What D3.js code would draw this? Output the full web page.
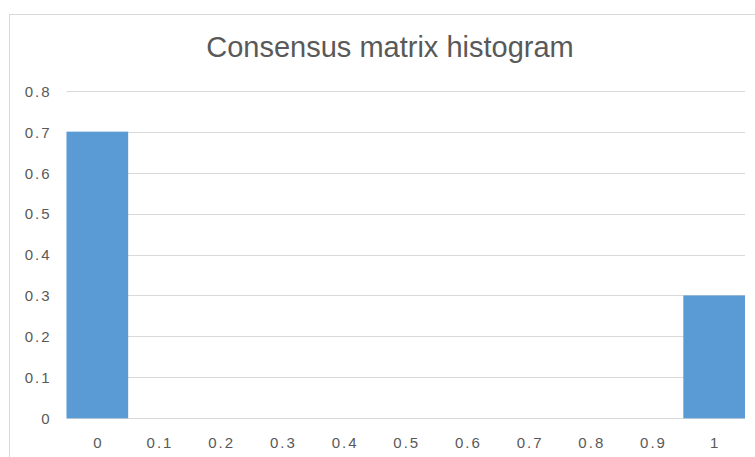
<!DOCTYPE html>
<html>
<head>
<meta charset="utf-8">
<script src="https://cdn.jsdelivr.net/npm/d3@7"></script>
<style>
  html, body { margin: 0; padding: 0; background: #fff; }
  svg { display: block; }
</style>
</head>
<body>
<svg id="chart" width="755" height="457"></svg>
<script>
// Histogram bins of the consensus matrix and their relative frequencies
const binLabels = ["0", "0.1", "0.2", "0.3", "0.4", "0.5", "0.6", "0.7", "0.8", "0.9", "1"];
const frequencies = [0.7, 0, 0, 0, 0, 0, 0, 0, 0, 0, 0.3];
const yTicks = [0, 0.1, 0.2, 0.3, 0.4, 0.5, 0.6, 0.7, 0.8];
const chartTitle = "Consensus matrix histogram";

const svg = d3.select("#chart");
const font = "'Liberation Sans', Arial, sans-serif";
const textColor = "#595959";
const labelSpacing = 2;

// Chart frame
svg.append("rect")
  .attr("x", 9.5).attr("y", 14.5)
  .attr("width", 800).attr("height", 500)
  .attr("fill", "#fff")
  .attr("stroke", "#d9d9d9").attr("stroke-width", 1);

const plot = { left: 66.5, right: 745, top: 90.7, bottom: 418.3 };

const x = d3.scaleBand()
  .domain(binLabels)
  .range([plot.left, plot.right])
  .paddingInner(0).paddingOuter(0);

const y = d3.scaleLinear()
  .domain([0, 0.8])
  .range([plot.bottom, plot.top]);

// Horizontal gridlines
svg.append("g")
  .selectAll("line")
  .data(yTicks)
  .join("line")
  .attr("x1", plot.left).attr("x2", plot.right)
  .attr("y1", d => Math.round(y(d)) + 0.5)
  .attr("y2", d => Math.round(y(d)) + 0.5)
  .attr("stroke", "#d9d9d9").attr("stroke-width", 1);

// Bars
svg.append("g")
  .selectAll("rect")
  .data(binLabels.map((b, i) => ({ bin: b, value: frequencies[i] })))
  .join("rect")
  .attr("x", d => x(d.bin))
  .attr("width", x.bandwidth())
  .attr("y", d => y(d.value))
  .attr("height", d => y(0) - y(d.value))
  .attr("fill", "#5b9bd5");

// Y axis labels
const yAxis = d3.axisLeft(y).tickValues(yTicks).tickSize(0).tickPadding(17 - labelSpacing)
  .tickFormat(d3.format("~g"));
const gy = svg.append("g").attr("transform", `translate(${plot.left},0)`).call(yAxis);
gy.select(".domain").remove();
gy.selectAll("text")
  .attr("font-family", font).attr("font-size", 15)
  .attr("fill", textColor).attr("letter-spacing", labelSpacing)
  .attr("dy", "0.36em");

// X axis labels
const xAxis = d3.axisBottom(x).tickSize(0).tickPadding(19.5);
const gx = svg.append("g").attr("transform", `translate(0,${plot.bottom})`).call(xAxis);
gx.select(".domain").remove();
gx.selectAll("text")
  .attr("font-family", font).attr("font-size", 15)
  .attr("fill", textColor).attr("letter-spacing", labelSpacing)
  .attr("dx", labelSpacing / 2);

// Title
svg.append("text")
  .attr("x", 390).attr("y", 57)
  .attr("text-anchor", "middle")
  .attr("font-family", font).attr("font-size", 29)
  .attr("fill", textColor)
  .text(chartTitle);
</script>
</body>
</html>
